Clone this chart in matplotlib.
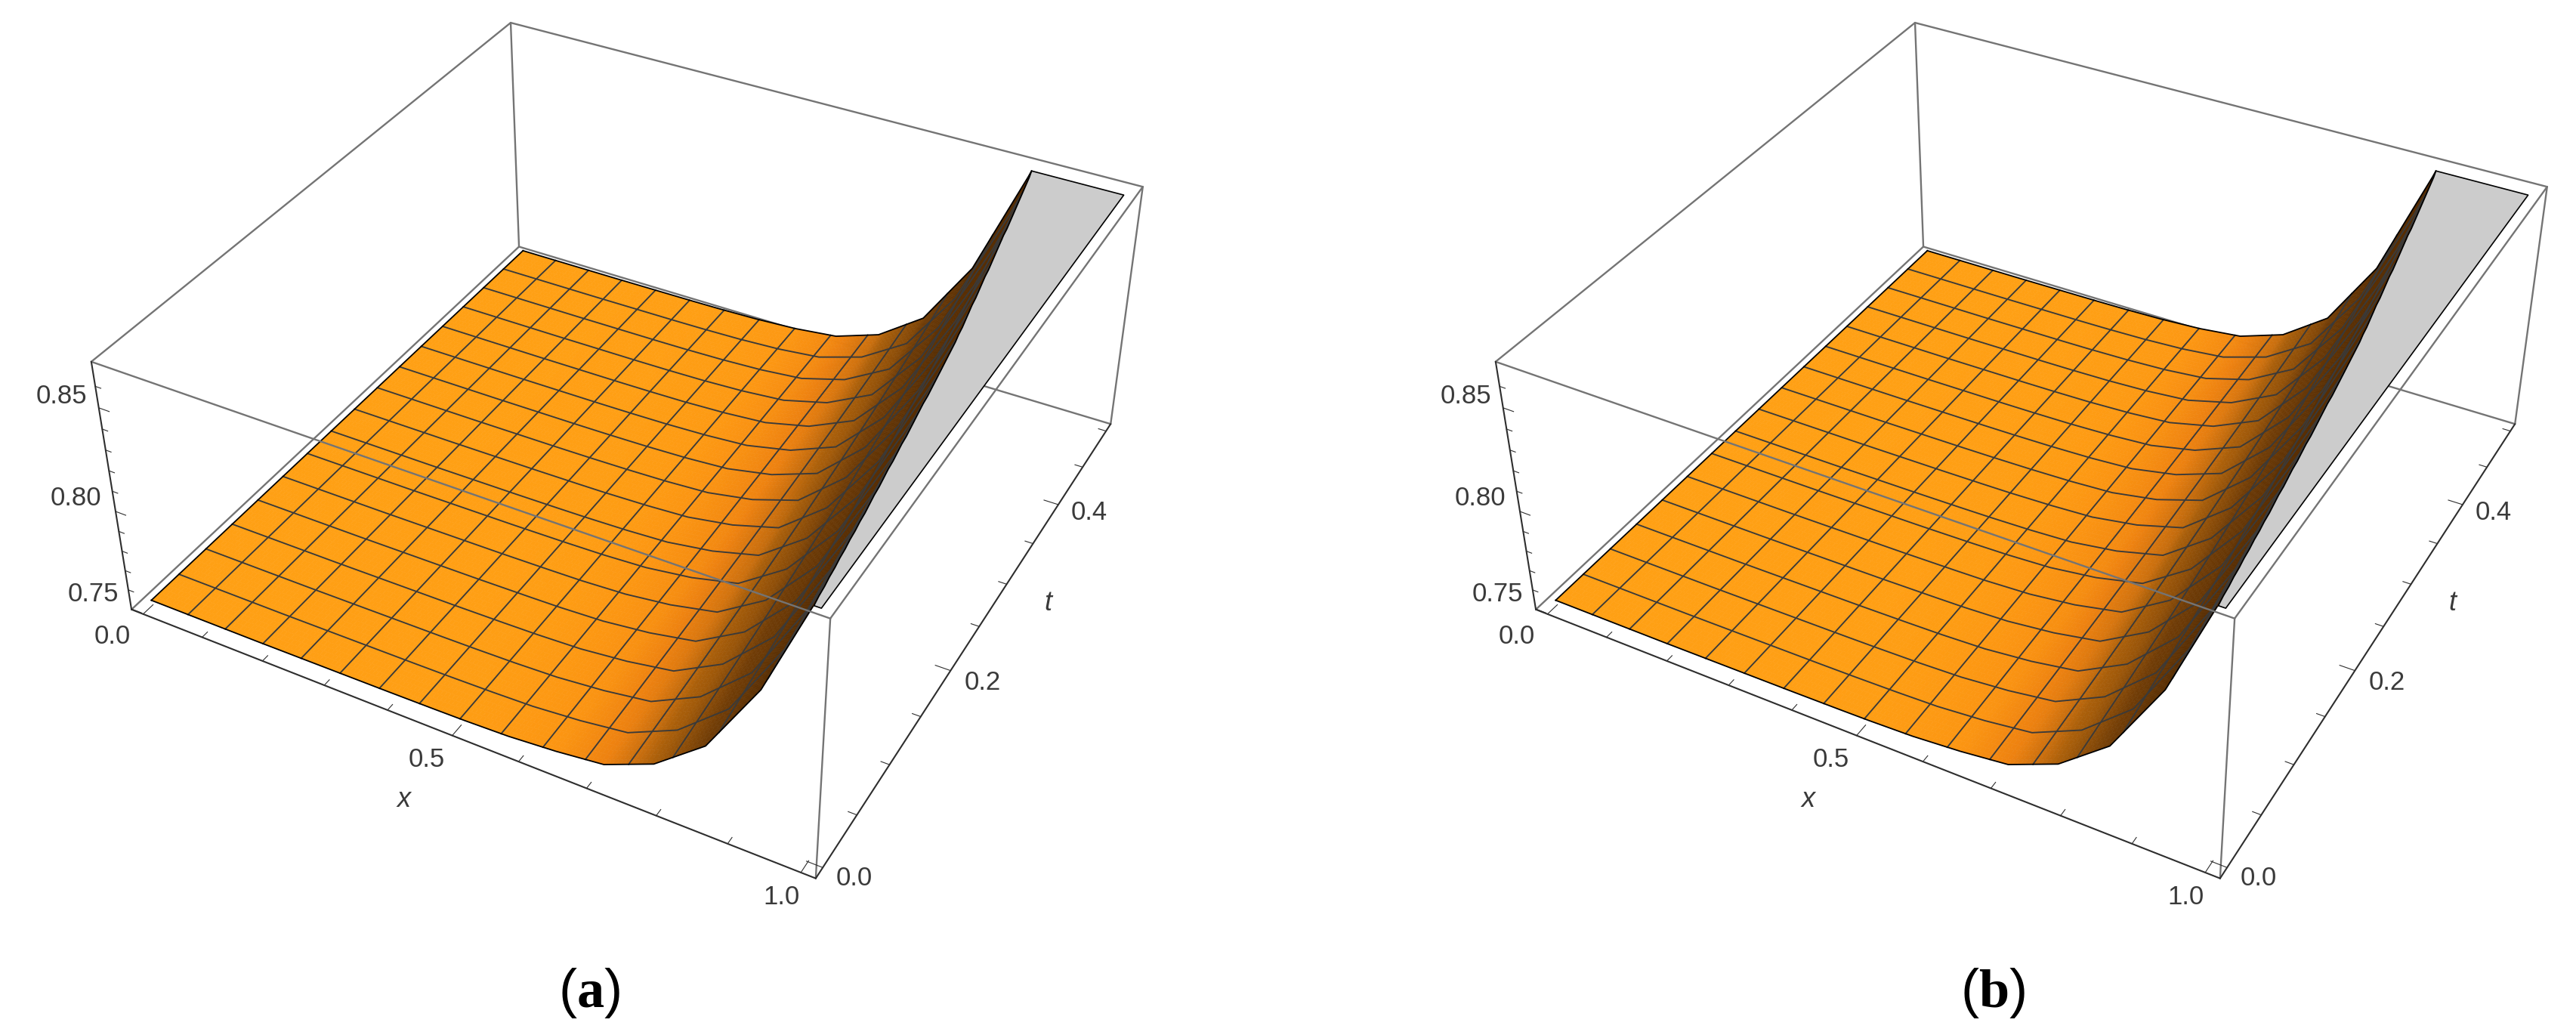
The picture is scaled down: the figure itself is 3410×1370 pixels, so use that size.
import numpy as np
import matplotlib
matplotlib.use("Agg")
import matplotlib.pyplot as plt
from mpl_toolkits.mplot3d import Axes3D
from mpl_toolkits.mplot3d.art3d import Poly3DCollection

plt.rcParams['font.family'] = ['Liberation Sans', 'DejaVu Sans']
plt.rcParams['mathtext.fontset'] = 'custom'
plt.rcParams['mathtext.rm'] = 'Liberation Serif'
plt.rcParams['mathtext.bf'] = 'Liberation Serif:bold'

W, H = 3410, 1370

# ---- data ----
x_samples = [k / 14 for k in range(15)]
t_samples = [k / 28 for k in range(15)]
# surface height: one row per t sample, one column per x sample
Z = [
    [0.7525, 0.7525, 0.7525, 0.7526, 0.7528, 0.7529, 0.7531, 0.7534, 0.7541, 0.7559, 0.7587, 0.7687, 0.7873, 0.8234, 0.8760],
    [0.7525, 0.7525, 0.7525, 0.7526, 0.7528, 0.7529, 0.7531, 0.7535, 0.7542, 0.7562, 0.7594, 0.7703, 0.7904, 0.8280, 0.8814],
    [0.7525, 0.7525, 0.7525, 0.7526, 0.7528, 0.7529, 0.7531, 0.7535, 0.7544, 0.7566, 0.7602, 0.7721, 0.7935, 0.8328, 0.8872],
    [0.7525, 0.7525, 0.7525, 0.7526, 0.7528, 0.7529, 0.7532, 0.7536, 0.7545, 0.7570, 0.7611, 0.7740, 0.7971, 0.8380, 0.8931],
    [0.7525, 0.7525, 0.7525, 0.7526, 0.7528, 0.7529, 0.7532, 0.7536, 0.7547, 0.7574, 0.7620, 0.7762, 0.8010, 0.8435, 0.8994],
    [0.7525, 0.7525, 0.7525, 0.7526, 0.7528, 0.7529, 0.7532, 0.7537, 0.7549, 0.7579, 0.7631, 0.7785, 0.8053, 0.8494, 0.9058],
    [0.7525, 0.7525, 0.7525, 0.7526, 0.7527, 0.7529, 0.7532, 0.7538, 0.7550, 0.7584, 0.7643, 0.7811, 0.8099, 0.8556, 0.9126],
    [0.7525, 0.7525, 0.7525, 0.7526, 0.7527, 0.7529, 0.7532, 0.7539, 0.7552, 0.7590, 0.7656, 0.7839, 0.8149, 0.8622, 0.9197],
    [0.7525, 0.7525, 0.7525, 0.7526, 0.7527, 0.7529, 0.7533, 0.7540, 0.7554, 0.7596, 0.7672, 0.7871, 0.8207, 0.8693, 0.9265],
    [0.7525, 0.7525, 0.7525, 0.7526, 0.7527, 0.7529, 0.7533, 0.7541, 0.7557, 0.7603, 0.7689, 0.7905, 0.8267, 0.8769, 0.9341],
    [0.7525, 0.7525, 0.7525, 0.7526, 0.7527, 0.7529, 0.7533, 0.7542, 0.7559, 0.7610, 0.7708, 0.7943, 0.8332, 0.8849, 0.9420],
    [0.7525, 0.7525, 0.7525, 0.7526, 0.7527, 0.7529, 0.7533, 0.7543, 0.7562, 0.7619, 0.7729, 0.7984, 0.8402, 0.8934, 0.9503],
    [0.7525, 0.7525, 0.7525, 0.7526, 0.7527, 0.7529, 0.7534, 0.7544, 0.7565, 0.7628, 0.7752, 0.8030, 0.8479, 0.9025, 0.9589],
    [0.7525, 0.7525, 0.7525, 0.7526, 0.7527, 0.7529, 0.7534, 0.7545, 0.7568, 0.7637, 0.7777, 0.8080, 0.8563, 0.9121, 0.9680],
    [0.7525, 0.7525, 0.7525, 0.7526, 0.7527, 0.7529, 0.7534, 0.7546, 0.7571, 0.7648, 0.7806, 0.8135, 0.8654, 0.9224, 0.9774],
]
shade_slope = [0.0, 0.03, 0.09, 0.16, 0.20, 0.38, 0.60, 0.90]
shade_r = [255, 252, 238, 200, 170, 112, 90, 80]
shade_g = [160, 150, 130, 110, 95, 60, 47, 40]
shade_b = [20, 18, 16, 14, 10, 6, 3, 0]
x_range = (-0.02, 1.02)
t_range = (-0.01, 0.51)
z_range = (0.7497, 0.8713)
t_end = 0.5
z_clip = 0.8688
mesh_cells = 16
x_ticks = [0.0, 0.1, 0.2, 0.3, 0.4, 0.5, 0.6, 0.7, 0.8, 0.9, 1.0]
x_major = [0.0, 0.5, 1.0]
t_ticks = [0.0, 0.05, 0.1, 0.15, 0.2, 0.25, 0.3, 0.35, 0.4, 0.45, 0.5]
t_major = [0.0, 0.2, 0.4]
z_ticks = [0.75, 0.76, 0.77, 0.78, 0.79, 0.80, 0.81, 0.82, 0.83, 0.84, 0.85, 0.86]
z_major = [0.75, 0.80, 0.85]
x_labels = ['0.0', '0.5', '1.0']
t_labels = ['0.0', '0.2', '0.4']
z_labels = ['0.75', '0.80', '0.85']

# camera calibration: pixel position of the eight box corners in panel (a)
corner_px = {
    (0, 0, 0): (173, 806), (1, 0, 0): (1080, 1163), (0, 1, 0): (688, 328), (1, 1, 0): (1470, 560),
    (0, 0, 1): (122, 479), (1, 0, 1): (1099, 819), (0, 1, 1): (675, 29), (1, 1, 1): (1513, 248),
}
panel_shift = 1859

GREY = '#747474'
DARK = '#2e2e2e'
MESH = '#3a3a3a'
TXT = '#3a3a3a'
MESH_LW = 1.35
LABEL_SIZE = 25


def fit_camera():
    A = []
    for (i, j, k), (u, v) in corner_px.items():
        X = [x_range[i], t_range[j], z_range[k], 1.0]
        u, v = u / 1000.0, (H - v) / 1000.0
        A.append(X + [0, 0, 0, 0] + [-u * c for c in X])
        A.append([0, 0, 0, 0] + X + [-v * c for c in X])
    P = np.linalg.svd(np.array(A))[2][-1].reshape(3, 4)
    P[:2] *= 1000.0
    return P


P = fit_camera()
xg = np.array(x_samples)
tg = np.array(t_samples)
Zg = np.array(Z)
Sg = np.gradient(Zg, xg, axis=1)


def bilinear(G, x, t):
    x = np.asarray(x, float)
    t = np.asarray(t, float)
    i = np.clip(np.searchsorted(xg, x, side='right') - 1, 0, len(xg) - 2)
    j = np.clip(np.searchsorted(tg, t, side='right') - 1, 0, len(tg) - 2)
    a = (x - xg[i]) / (xg[i + 1] - xg[i])
    b = (t - tg[j]) / (tg[j + 1] - tg[j])
    return (G[j, i] * (1 - a) * (1 - b) + G[j, i + 1] * a * (1 - b)
            + G[j + 1, i] * (1 - a) * b + G[j + 1, i + 1] * a * b)


def clip_poly(pts):
    out = []
    n = len(pts)
    for m in range(n):
        p, q = pts[m], pts[(m + 1) % n]
        pin, qin = p[2] <= z_clip, q[2] <= z_clip
        if pin:
            out.append(p)
        if pin != qin:
            f = (z_clip - p[2]) / (q[2] - p[2])
            out.append((p[0] + f * (q[0] - p[0]), p[1] + f * (q[1] - p[1]), z_clip))
    return out


def clip_crossing(t):
    xs = np.linspace(0, 1, 1401)
    zs = bilinear(Zg, xs, np.full_like(xs, t))
    above = np.nonzero(zs > z_clip)[0]
    return xs[above[0]] if len(above) else 1.0


def pix(x, t, z):
    p = P @ np.array([x, t, z, 1.0])
    return p[0] / p[2], p[1] / p[2]


def build_facets():
    # each sampled cell is split into small facets for smooth shading
    fx = np.linspace(0, 1, 14 * 12 + 1)
    ft = np.linspace(0, t_end, 14 * 8 + 1)
    FX, FT = np.meshgrid(fx, ft)
    FZ = bilinear(Zg, FX, FT)
    MX, MT = 0.5 * (FX[:-1, :-1] + FX[1:, 1:]), 0.5 * (FT[:-1, :-1] + FT[1:, 1:])
    MS = bilinear(Sg, MX, MT)
    R = np.interp(MS, shade_slope, shade_r) / 255
    G = np.interp(MS, shade_slope, shade_g) / 255
    B = np.interp(MS, shade_slope, shade_b) / 255
    polys, cols = [], []
    for j in range(len(ft) - 1):
        for i in range(len(fx) - 1):
            if FZ[j, i] > z_clip and FZ[j, i + 1] > z_clip and FZ[j + 1, i] > z_clip and FZ[j + 1, i + 1] > z_clip:
                continue
            q = [(FX[m, n], FT[m, n], FZ[m, n]) for m, n in ((j, i), (j, i + 1), (j + 1, i + 1), (j + 1, i))]
            q = clip_poly(q)
            if len(q) >= 3:
                polys.append(q)
                cols.append((R[j, i], G[j, i], B[j, i]))
    return polys, cols


FACETS, FACET_COLOURS = build_facets()


def draw_panel(fig, shift):
    ax = fig.add_axes([0, 0, 1, 1], projection='3d')
    ax.set_proj_type('ortho')
    ax.set_axis_off()
    ax.patch.set_visible(False)
    ax.computed_zorder = False
    ax.apply_aspect = lambda position=None: None

    def get_proj():
        Q = P.copy()
        Q[0] = Q[0] + shift * Q[2]
        vx0, vx1 = ax.viewLim.intervalx
        vy0, vy1 = ax.viewLim.intervaly
        Q[0] = vx0 * Q[2] + (vx1 - vx0) / W * Q[0]
        Q[1] = vy0 * Q[2] + (vy1 - vy0) / H * Q[1]
        depth = np.mean([P[2] @ [x_range[i], t_range[j], z_range[k], 1] for i in (0, 1) for j in (0, 1) for k in (0, 1)])
        D = np.array([-1.0, 2.0, -8.0, 6.0]) * depth
        return np.array([Q[0], Q[1], D, Q[2]])

    ax.get_proj = get_proj
    x0, x1 = x_range
    t0, t1 = t_range
    z0, z1 = z_range

    def box(a, b, c, d, e, f, z, color=GREY, lw=1.7):
        ax.plot([a, b], [c, d], [e, f], color=color, lw=lw, zorder=z, solid_capstyle='round')

    box(x0, x1, t1, t1, z0, z0, 1)
    box(x0, x0, t1, t1, z0, z1, 1)
    box(x0, x0, t0, t1, z0, z0, 1)
    box(x0, x1, t1, t1, z1, z1, 1)
    box(x0, x0, t0, t1, z1, z1, 1)
    box(x1, x1, t1, t1, z0, z1, 1)
    box(x1, x1, t0, t1, z1, z1, 1)
    box(x1, x1, t0, t0, z0, z1, 1)

    # clipped cap at the top of the plot range
    ts = np.linspace(0, t_end, 57)
    xc = [clip_crossing(v) for v in ts]
    cap = [[(a, b, z_clip) for a, b in zip(xc, ts)] + [(1.0, t_end, z_clip), (1.0, 0.0, z_clip)]]
    ax.add_collection3d(Poly3DCollection(cap, facecolors='#cccccc', edgecolors='none', zorder=2))
    ax.plot([xc[0], 1, 1, xc[-1]], [0, 0, t_end, t_end], [z_clip] * 4, color='black', lw=1.2, zorder=2.5)

    ax.add_collection3d(Poly3DCollection(FACETS, facecolors=FACET_COLOURS, edgecolors=FACET_COLOURS,
                                         linewidths=0.4, zorder=3))

    def curve(xs, ts_, color, lw, z):
        zs = bilinear(Zg, xs, ts_)
        keep = zs <= z_clip
        ax.plot(np.asarray(xs)[keep], np.asarray(ts_)[keep], zs[keep], color=color, lw=lw, zorder=z)

    dense = np.linspace(0, 1, 561)
    dense_t = np.linspace(0, t_end, 281)
    for i in range(1, mesh_cells):
        curve(np.full_like(dense_t, i / mesh_cells), dense_t, MESH, MESH_LW, 4)
    for j in range(1, mesh_cells):
        curve(dense, np.full_like(dense, j / mesh_cells * t_end), MESH, MESH_LW, 4)
    curve(dense, np.zeros_like(dense), 'black', 1.3, 5)
    curve(dense, np.full_like(dense, t_end), 'black', 1.3, 5)
    curve(np.zeros_like(dense_t), dense_t, 'black', 1.3, 5)
    ax.plot(xc, ts, [z_clip] * len(ts), color='black', lw=1.3, zorder=5)

    box(x0, x1, t0, t0, z1, z1, 6)

    box(x0, x1, t0, t0, z0, z0, 7, DARK, 1.5)
    box(x1, x1, t0, t1, z0, z0, 7, DARK, 1.5)
    box(x0, x0, t0, t0, z0, z1, 7, DARK, 1.5)
    for v in x_ticks:
        d = 0.011 if v in x_major else 0.006
        ax.plot([v, v], [t0, t0 + d], [z0, z0], color=DARK, lw=0.8, zorder=7)
    for v in t_ticks:
        d = 0.022 if v in t_major else 0.012
        ax.plot([x1, x1 - d], [v, v], [z0, z0], color=DARK, lw=0.8, zorder=7)
    for v in z_ticks:
        d = 0.017 if v in z_major else 0.009
        ax.plot([x0, x0 + d], [t0, t0], [v, v], color=DARK, lw=0.8, zorder=7)

    def label(x, t, z, s, dx, dy, **kw):
        u, v = pix(x, t, z)
        fig.text((u + shift + dx) / W, (v + dy) / H, s, color=TXT, fontsize=LABEL_SIZE, **kw)

    for v, s, dx, dy in zip(x_major, x_labels, [-41, -34, -26], [-30, -32, -33]):
        label(v, t0, z0, s, dx, dy, ha='center', va='center')
    for v, s, dx, dy in zip(t_major, t_labels, [42, 42, 41], [-14, -16, -11]):
        label(x1, v, z0, s, dx, dy, ha='center', va='center')
    for v, s, dx, dy in zip(z_major, z_labels, [-17, -19, -16], [20, 17, 15]):
        label(x0, t0, v, s, dx, dy, ha='right', va='center')
    return ax


fig = plt.figure(figsize=(W / 100, H / 100), dpi=100, facecolor='white')
draw_panel(fig, 0)
draw_panel(fig, panel_shift)
for sx in (0, panel_shift):
    fig.text((535 + sx) / W, 1 - 1058 / H, 'x', style='italic', fontsize=26, color=TXT, ha='center', va='center')
    fig.text((1387 + sx) / W, 1 - 799 / H, 't', style='italic', fontsize=26, color=TXT, ha='center', va='center')
fig.text(780 / W, 1 - 1315 / H, r'($\mathbf{a}$)', fontsize=52, color='black', ha='center', va='center')
fig.text(2638 / W, 1 - 1315 / H, r'($\mathbf{b}$)', fontsize=52, color='black', ha='center', va='center')
fig.savefig('out.png', dpi=100)
